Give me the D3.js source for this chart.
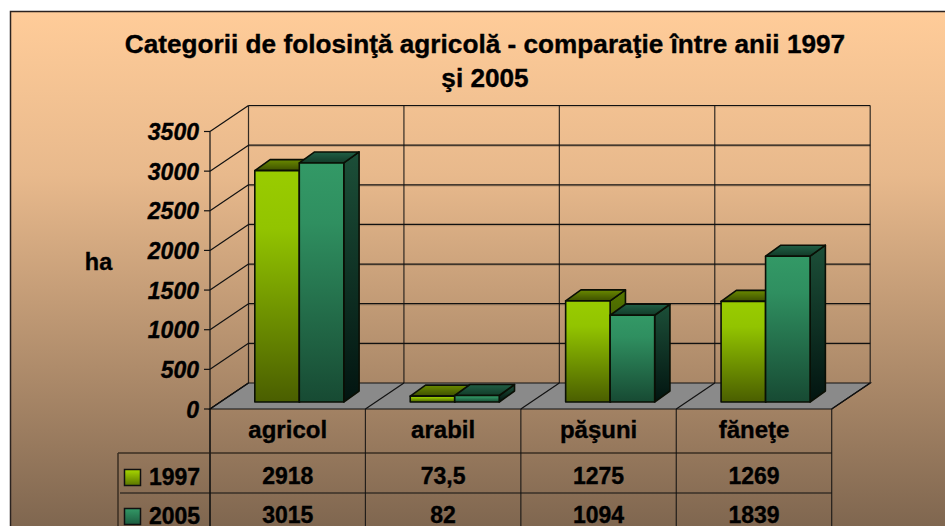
<!DOCTYPE html>
<html><head><meta charset="utf-8">
<style>html,body{margin:0;padding:0;background:#fff;overflow:hidden}svg{display:block}text{font-family:"Liberation Sans",Arial,sans-serif;font-weight:bold;fill:#000;stroke:#000;stroke-width:.35px}</style>
<script src="https://cdn.jsdelivr.net/npm/d3@7"></script></head><body>
<script>
const categories=["agricol","arabil","păşuni","făneţe"];
const seriesNames=["1997","2005"];
const values1997=[2918,73.5,1275,1269];
const values2005=[3015,82,1094,1839];
const labels1997=["2918","73,5","1275","1269"];
const labels2005=["3015","82","1094","1839"];
const yTicks=[0,500,1000,1500,2000,2500,3000,3500];
const titleLines=["Categorii de folosinţă agricolă - comparaţie între anii 1997","şi 2005"];

const W=945,H=526;
const svg=d3.select("body").append("svg").attr("width",W).attr("height",H);
const defs=svg.append("defs");
function grad(id,stops){
  const g=defs.append("linearGradient").attr("id",id).attr("x1",0).attr("y1",0).attr("x2",0).attr("y2",1);
  stops.forEach(s=>g.append("stop").attr("offset",s[0]).attr("stop-color",s[1]));
}
grad("bg",[[0,"#ffcc99"],[0.3,"#e8b98c"],[1,"#765f4a"]]);
grad("f0",[[0,"#99cc00"],[0.25,"#92c400"],[1,"#4a5e00"]]);
grad("f1",[[0,"#339966"],[0.25,"#2f8f60"],[1,"#174a33"]]);
grad("t0",[[0,"#6a8a00"],[1,"#3d4f00"]]);
grad("t1",[[0,"#205f45"],[1,"#123a28"]]);
grad("s0",[[0,"#567800"],[1,"#1f2a00"]]);
grad("s1",[[0,"#1c4f38"],[1,"#021410"]]);
grad("lg0",[[0,"#a8d800"],[1,"#5a7400"]]);
grad("lg1",[[0,"#339966"],[1,"#1d5c40"]]);

svg.append("rect").attr("x",10.5).attr("y",11.5).attr("width",W+20).attr("height",H+20)
  .attr("fill","url(#bg)").attr("stroke","#2b2320").attr("stroke-width",1.5);

const x0=210,x1=831.7,dx=38.5,dy=-26,y0=409;
const x=d3.scaleBand().domain(categories).range([x0,x1]);
const y=d3.scaleLinear().domain([0,3500]).range([y0,131.5]);
const inner=d3.scaleBand().domain(seriesNames).range([0,89]);
const line="#111";
const g=svg.append("g");

yTicks.forEach(t=>{
  const v=y(t);
  if(t>0){
    g.append("line").attr("x1",x0+dx).attr("x2",x1+dx).attr("y1",v+dy+1.2).attr("y2",v+dy+1.2).attr("stroke","#6b5540").attr("stroke-opacity",.35).attr("stroke-width",1);
    g.append("line").attr("x1",x0+dx).attr("x2",x1+dx).attr("y1",v+dy).attr("y2",v+dy).attr("stroke",line).attr("stroke-width",1.2);
  }
  g.append("line").attr("x1",x0).attr("x2",x0+dx).attr("y1",v).attr("y2",v+dy).attr("stroke",line).attr("stroke-width",1.2);
  g.append("line").attr("x1",x0-6).attr("x2",x0).attr("y1",v).attr("y2",v).attr("stroke",line).attr("stroke-width",1.2);
  g.append("text").attr("x",199).attr("y",v+8.5).attr("text-anchor","end").attr("font-size",23).attr("font-style","italic").text(t);
});
const bounds=categories.map(c=>x(c)).concat([x1]);
bounds.forEach(b=>{
  g.append("line").attr("x1",b+dx).attr("x2",b+dx).attr("y1",y(3500)+dy).attr("y2",y0+dy).attr("stroke",line).attr("stroke-opacity",.85).attr("stroke-width",1.2);
});
g.append("line").attr("x1",x0).attr("x2",x0).attr("y1",y(3500)).attr("y2",H).attr("stroke",line).attr("stroke-width",1.2);

g.append("polygon").attr("points",[[x0,y0],[x0+dx,y0+dy],[x1+dx,y0+dy],[x1,y0]].join(" ")).attr("fill","#8a8a8a").attr("stroke",line).attr("stroke-width",1.2);
bounds.forEach(b=>{
  g.append("line").attr("x1",b).attr("x2",b+dx).attr("y1",y0).attr("y2",y0+dy).attr("stroke",line).attr("stroke-width",1.2);
});

const barDx=15.3,barDy=-11,barShiftY=-7,barInset=44.8;
const bars=g.append("g").attr("stroke","#0a0f05").attr("stroke-width",1.6).attr("stroke-linejoin","round");
categories.forEach((c,ci)=>{
  [values1997,values2005].forEach((vals,si)=>{
    const s=seriesNames[si];
    const l=x(c)+barInset+inner(s), w=inner.bandwidth();
    const bot=y0+barShiftY, top=y(vals[ci])+barShiftY;
    bars.append("polygon").attr("fill",`url(#s${si})`).attr("points",[[l+w,top],[l+w+barDx,top+barDy],[l+w+barDx,bot+barDy],[l+w,bot]].join(" "));
    bars.append("polygon").attr("fill",`url(#t${si})`).attr("points",[[l,top],[l+barDx,top+barDy],[l+w+barDx,top+barDy],[l+w,top]].join(" "));
    bars.append("rect").attr("x",l).attr("y",top).attr("width",w).attr("height",bot-top).attr("fill",`url(#f${si})`);
  });
});

titleLines.forEach((t,i)=>{
  svg.append("text").attr("x",485).attr("y",[53,87][i]).attr("text-anchor","middle").attr("font-size",26.2).text(t);
});
svg.append("text").attr("x",98.5).attr("y",270).attr("text-anchor","middle").attr("font-size",23.5).text("ha");

const tb=svg.append("g");
tb.append("line").attr("x1",118).attr("x2",x1).attr("y1",453).attr("y2",453).attr("stroke","#3a2e22").attr("stroke-width",1.5);
tb.append("line").attr("x1",120).attr("x2",x1).attr("y1",493).attr("y2",493).attr("stroke",line).attr("stroke-width",1.2);
tb.append("line").attr("x1",118).attr("x2",118).attr("y1",453).attr("y2",H).attr("stroke","#3a2e22").attr("stroke-width",1.5);
bounds.forEach(b=>tb.append("line").attr("x1",b).attr("x2",b).attr("y1",y0).attr("y2",H).attr("stroke",line).attr("stroke-opacity",.85).attr("stroke-width",1.2));
categories.forEach((c,i)=>{
  const cx=x(c)+x.bandwidth()/2;
  tb.append("text").attr("x",cx).attr("y",438).attr("text-anchor","middle").attr("font-size",24).text(c);
  tb.append("text").attr("x",cx).attr("y",484).attr("text-anchor","middle").attr("font-size",23).text(labels1997[i]);
  tb.append("text").attr("x",cx).attr("y",523).attr("text-anchor","middle").attr("font-size",23).text(labels2005[i]);
});
seriesNames.forEach((s,i)=>{
  const yy=[469,508][i];
  tb.append("rect").attr("x",124.5).attr("y",yy+.5).attr("width",16).attr("height",16).attr("fill",`url(#lg${i})`).attr("stroke","#111").attr("stroke-width",1.5);
  tb.append("text").attr("x",149).attr("y",[485,524][i]).attr("font-size",23).text(s);
});
</script></body></html>
